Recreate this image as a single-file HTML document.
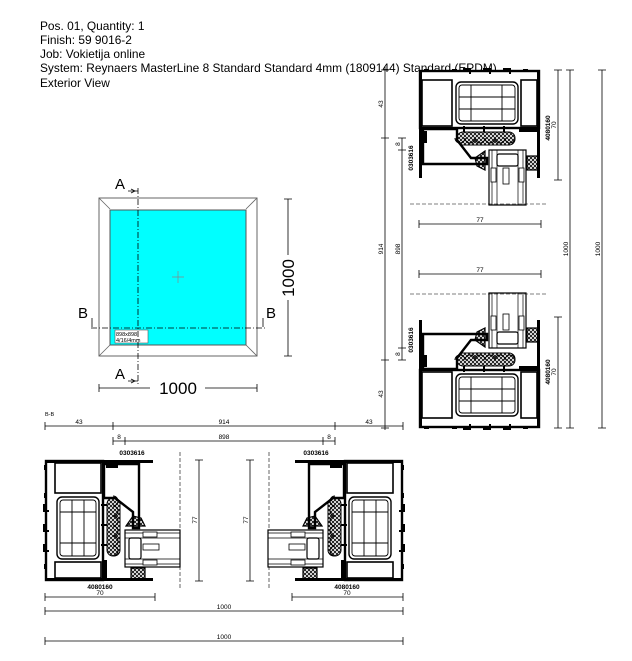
<!DOCTYPE html>
<html><head><meta charset="utf-8"><style>
html,body{margin:0;padding:0;background:#fff;}
svg{display:block;font-family:"Liberation Sans",sans-serif;}
</style></head><body>
<svg width="632" height="661" viewBox="0 0 632 661" xmlns="http://www.w3.org/2000/svg">
<defs>
<pattern id="hx" width="4" height="4" patternUnits="userSpaceOnUse"><path d="M0 0L4 4M4 0L0 4" stroke="#000" stroke-width="0.8"/></pattern>
<g id="prof">
  <rect x="1" y="1" width="57" height="119" fill="#fff" stroke="#000" stroke-width="2.4"/>
  <rect x="10" y="3" width="46" height="30" fill="#fff" stroke="#000" stroke-width="1.6"/>
  <rect x="10" y="102" width="46" height="16" fill="#fff" stroke="#000" stroke-width="1.6"/>
  <rect x="12" y="37" width="42" height="62" rx="5" fill="#fff" stroke="#000" stroke-width="1.4"/>
  <rect x="15" y="40" width="36" height="56" rx="3" fill="none" stroke="#000" stroke-width="0.9"/>
  <path d="M15 52H51M15 83H51M27 40V96M39 40V96" stroke="#000" stroke-width="0.9"/>
  <path d="M0 45h-1v6h5M0 65h-1v6h5M0 85h-1v6h5" stroke="#000" stroke-width="2" fill="none"/>
  <path d="M56 45h6M56 65h6M56 85h6" stroke="#000" stroke-width="2"/>
  <rect x="-1" y="5" width="3" height="5" fill="#000"/><rect x="-1" y="33" width="3" height="5" fill="#000"/><rect x="-1" y="104" width="3" height="5" fill="#000"/>
  <rect x="0" y="0" width="108" height="3" fill="#000"/>
  <rect x="0" y="118" width="108" height="3" fill="#000"/>
  <path d="M59 4V38H70L88 52V68H94V4Z" fill="#fff" stroke="#000" stroke-width="2.4"/>
  <rect x="61" y="3" width="12" height="5" fill="#000"/>
  <rect x="59" y="100" width="3" height="18" fill="#000"/>
  <path d="M68 36a5 5 0 0 1 0 10a5 5 0 0 1 0 10a5 5 0 0 1 0 10a5 5 0 0 1 0 10a5 5 0 0 1 0 10a5 5 0 0 1 0 10a5 5 0 0 0 0 -10a5 5 0 0 0 0 -10a5 5 0 0 0 0 -10a5 5 0 0 0 0 -10a5 5 0 0 0 0 -10a5 5 0 0 0 0 -10Z" fill="url(#hx)" stroke="#000" stroke-width="1"/>
  <rect x="62" y="38" width="13" height="58" rx="6" fill="url(#hx)" stroke="#000" stroke-width="1"/>
  <path d="M81 66L88 56L96 58L100 66Z" fill="url(#hx)" stroke="#000" stroke-width="1.2"/>
  <rect x="86" y="108" width="14" height="11" fill="url(#hx)" stroke="#000" stroke-width="1.2"/>
  <rect x="80" y="70" width="55" height="37" fill="#fff" stroke="#000" stroke-width="1.2"/>
  <path d="M80 73H135M80 104H135M80 78H135M80 99H135" stroke="#000" stroke-width="0.7"/>
  <rect x="84" y="78" width="12" height="21" rx="2" fill="#fff" stroke="#000" stroke-width="1.2"/>
  <rect x="98" y="72" width="14" height="5" fill="#fff" stroke="#000" stroke-width="0.8"/>
  <rect x="98" y="84" width="16" height="6" fill="#fff" stroke="#000" stroke-width="0.8"/>
  <rect x="98" y="100" width="14" height="5" fill="#fff" stroke="#000" stroke-width="0.8"/>
</g>
</defs>

<g font-size="11.9" fill="#000">
<text x="40" y="30">Pos. 01, Quantity: 1</text>
<text x="40" y="44">Finish: 59 9016-2</text>
<text x="40" y="58">Job: Vokietija online</text>
<text x="40" y="72">System: Reynaers MasterLine 8  Standard Standard 4mm (1809144) Standard (EPDM)</text>
<text x="40" y="87">Exterior View</text>
</g>

<rect x="99" y="198" width="158" height="158" fill="#fff" stroke="#666" stroke-width="1"/>
<path d="M99 198L110 209M257 198L246 209M99 356L110 345M257 356L246 345" stroke="#666" stroke-width="0.8"/>
<rect x="110" y="210" width="136" height="135" fill="#00ffff" stroke="#555" stroke-width="1"/>
<path d="M172 277h12M178 271v12" stroke="#888" stroke-width="0.7"/>
<rect x="115" y="330" width="33" height="13" fill="#fff" stroke="#555" stroke-width="0.6"/>
<text x="116" y="336" font-size="5.5">898x898</text><text x="116" y="342" font-size="5.5">4/16/4mm</text>
<path d="M138 188V385" stroke="#000" stroke-width="0.8" stroke-dasharray="6,2,1,2"/>
<path d="M91 328H265" stroke="#000" stroke-width="0.8" stroke-dasharray="6,2,1,2"/>
<path d="M128 191H138M128 381H138" stroke="#000" stroke-width="0.8"/>
<path d="M131 189L135 191L131 193M131 379L135 381L131 383" stroke="#000" fill="none" stroke-width="0.8"/>
<path d="M92 318V327M263 318V327" stroke="#000" stroke-width="0.8"/>
<text x="115" y="189" font-size="15">A</text>
<text x="115" y="379" font-size="15">A</text>
<text x="78" y="318" font-size="15">B</text>
<text x="266" y="318" font-size="15">B</text>
<path d="M99 388H150M205 388H257M99 384V392M257 384V392" stroke="#000" stroke-width="0.8"/>
<text x="178" y="394" font-size="17" text-anchor="middle">1000</text>
<path d="M288 199V255M288 300V356M284 199H292M284 356H292" stroke="#000" stroke-width="0.8"/>
<text transform="translate(294,278) rotate(-90)" font-size="17" text-anchor="middle">1000</text>

<text x="45" y="416" font-size="5.5">B-B</text>
<g stroke="#000" stroke-width="0.8">
<path d="M45 426H403M45 422V430M113 422V430M335 422V430M403 422V430"/>
<path d="M113 441H335M113 437V445M125 437V445M323 437V445M335 437V445"/>
<path d="M45 597H155M45 593V601M155 593V601M292 597H403M292 593V601M403 593V601"/>
<path d="M45 611H403M45 607V615M403 607V615"/>
<path d="M45 641H403M45 637V645M403 637V645"/>
<path d="M199 460V581M195 460H203M195 581H203M250 460V581M246 460H254M246 581H254"/>
</g>
<path d="M180 452V590M269 452V590" stroke="#000" stroke-width="0.6" stroke-dasharray="4,2"/>
<g font-size="6.5" text-anchor="middle">
<text x="79" y="424">43</text><text x="224" y="424">914</text><text x="369" y="424">43</text>
<text x="119" y="439">8</text><text x="224" y="439">898</text><text x="329" y="439">8</text>
<text x="100" y="595">70</text><text x="347" y="595">70</text>
<text x="224" y="609">1000</text><text x="224" y="639">1000</text>
</g>
<g font-size="6.5" font-weight="bold" text-anchor="middle">
<text x="132" y="455">0303616</text><text x="316" y="455">0303616</text>
<text x="100" y="589">4080160</text><text x="347" y="589">4080160</text>
</g>
<text transform="translate(197,520) rotate(-90)" font-size="6.5" text-anchor="middle">77</text>
<text transform="translate(248,520) rotate(-90)" font-size="6.5" text-anchor="middle">77</text>
<use href="#prof" transform="translate(45,460)"/>
<use href="#prof" transform="matrix(-1,0,0,1,403,460)"/>

<use href="#prof" transform="matrix(0,1,1,0,419,70)"/>
<use href="#prof" transform="matrix(0,-1,1,0,419,428)"/>
<path d="M410 204H548M410 294H548" stroke="#000" stroke-width="0.6" stroke-dasharray="4,2"/>
<g stroke="#000" stroke-width="0.8">
<path d="M419 224H541M419 220V228M541 220V228M419 274H541M419 270V278M541 270V278"/>
<path d="M385 66V430M381 70H389M381 138H389M381 360H389M381 428H389"/>
<path d="M402 138V360M398 138H406M398 150H406M398 348H406M398 360H406"/>
<path d="M558 70V180M554 70H562M554 180H562M558 317V428M554 317H562M554 428H562"/>
<path d="M570 70V428M566 70H574M566 428H574"/>
<path d="M602 70V428M598 70H606M598 428H606"/>
</g>
<g font-size="6.5" text-anchor="middle">
<text x="480" y="222">77</text><text x="480" y="272">77</text>
<text transform="translate(383,104) rotate(-90)">43</text>
<text transform="translate(383,249) rotate(-90)">914</text>
<text transform="translate(383,394) rotate(-90)">43</text>
<text transform="translate(400,144) rotate(-90)">8</text>
<text transform="translate(400,249) rotate(-90)">898</text>
<text transform="translate(400,354) rotate(-90)">8</text>
<text transform="translate(556,125) rotate(-90)">70</text>
<text transform="translate(556,372) rotate(-90)">70</text>
<text transform="translate(568,249) rotate(-90)">1000</text>
<text transform="translate(600,249) rotate(-90)">1000</text>
</g>
<g font-size="6.5" font-weight="bold" text-anchor="middle">
<text transform="translate(413,158) rotate(-90)">0303616</text>
<text transform="translate(413,340) rotate(-90)">0303616</text>
<text transform="translate(550,128) rotate(-90)">4080160</text>
<text transform="translate(550,372) rotate(-90)">4080160</text>
</g>
</svg>
</body></html>
